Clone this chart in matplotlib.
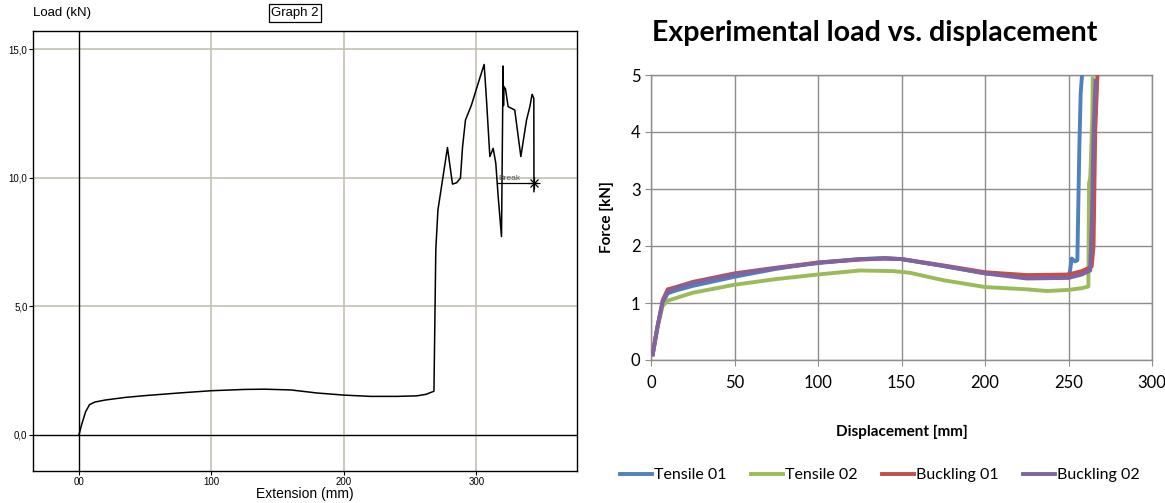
import matplotlib
matplotlib.use("Agg")
import matplotlib.pyplot as plt

# ---- left: machine output (Extension vs Load) ----
ext_mm = [0, 2, 5, 8, 12, 20, 35, 50, 75, 100, 125, 140, 160, 180, 200, 220, 240, 255, 262, 268,
          269.4, 271, 273.7, 278.2, 282, 285, 288, 289.6, 291.8, 296.3, 301.4, 305.9,
          307.7, 310.2, 312.7, 314.7, 316.5, 319, 320.2, 320.5, 320.8, 322, 324, 329,
          333.6, 337.9, 340.4, 342.1, 343.4, 343.5, 343.5]
load_kn = [0, 0.4, 0.9, 1.18, 1.28, 1.36, 1.46, 1.53, 1.63, 1.72, 1.77, 1.78, 1.75, 1.63, 1.55,
           1.5, 1.5, 1.52, 1.58, 1.7,
           7.2, 8.74, 9.65, 11.17, 9.75, 9.8, 9.98, 11.2, 12.24, 12.82, 13.67, 14.4,
           13.0, 10.82, 11.14, 10.56, 9.26, 7.71, 14.34, 12.8, 13.54, 13.45, 12.76, 12.63,
           10.82, 12.24, 12.76, 13.24, 13.08, 9.78, 9.46]
break_x = 343.5
break_y = 9.8
break_line = [315.7, 346]

left_xticks = [0, 100, 200, 300]
left_xlabels = ["00", "100", "200", "300"]
left_yticks = [0, 5, 10, 15]
left_ylabels = ["0,0", "5,0", "10,0", "15,0"]

# ---- right: Excel chart (Displacement vs Force) ----
t1_x = [1, 4, 7, 10, 15, 25, 50, 75, 100, 125, 140, 150, 175, 200, 225, 240, 250, 251,
        251.9, 253.9, 255.3, 255.9, 256.5, 257.3, 258.1]
t1_y = [0.1, 0.6, 1.0, 1.17, 1.22, 1.3, 1.46, 1.6, 1.71, 1.77, 1.79, 1.77, 1.65, 1.52,
        1.46, 1.45, 1.46, 1.58, 1.78, 1.73, 1.75, 2.75, 3.74, 4.68, 5.0]
t2_x = [1, 4, 7, 10, 25, 50, 75, 100, 125, 145, 155, 175, 200, 225, 237, 250, 258, 261.9,
        262.3, 263, 263.3, 264.3, 264.5]
t2_y = [0.1, 0.6, 0.95, 1.04, 1.18, 1.32, 1.42, 1.5, 1.57, 1.56, 1.53, 1.4, 1.28, 1.24,
        1.21, 1.23, 1.26, 1.29, 3.1, 3.2, 3.4, 4.3, 4.94]
b1_x = [1, 4, 7, 10, 15, 25, 50, 75, 100, 125, 140, 150, 175, 200, 225, 250, 258, 263.9,
        265, 266, 267.3]
b1_y = [0.1, 0.6, 1.05, 1.24, 1.28, 1.37, 1.52, 1.62, 1.71, 1.76, 1.78, 1.77, 1.66, 1.54,
        1.49, 1.5, 1.56, 1.64, 2.0, 4.0, 4.97]
b2_x = [1, 4, 7, 10, 15, 25, 50, 75, 100, 125, 140, 150, 175, 200, 225, 250, 258, 263,
        264, 265, 266.2]
b2_y = [0.1, 0.6, 1.02, 1.2, 1.26, 1.35, 1.5, 1.61, 1.7, 1.77, 1.78, 1.77, 1.65, 1.52,
        1.43, 1.44, 1.5, 1.57, 2.5, 4.0, 4.9]
series = [("Tensile 01", t1_x, t1_y, "#4F81BD"),
          ("Tensile 02", t2_x, t2_y, "#9BBB59"),
          ("Buckling 01", b1_x, b1_y, "#C0504D"),
          ("Buckling 02", b2_x, b2_y, "#8064A2")]

fig = plt.figure(figsize=(11.65, 5.03), dpi=100)

# left panel
ax1 = fig.add_axes([33 / 1165, 1 - 471 / 503, 544 / 1165, 440 / 503])
ax1.set_xlim(-34.7, 376)
ax1.set_ylim(-1.4, 15.7)
grid_c = "#c6c0b4"
for x in left_xticks[1:]:
    ax1.axvline(x, color=grid_c, lw=1.2, zorder=1)
for y in left_yticks[1:]:
    ax1.axhline(y, color=grid_c, lw=1.2, zorder=1)
ax1.axvline(0, color="black", lw=1, zorder=2)
ax1.axhline(0, color="black", lw=1, zorder=2)
ax1.plot(ext_mm, load_kn, color="black", lw=1.1, zorder=3)
ax1.plot(break_line, [break_y, break_y], color="black", lw=0.9, zorder=3)
ax1.plot([break_x], [break_y], marker="x", color="black", ms=6, mew=0.9, zorder=4)
ax1.plot([break_x], [break_y], marker="+", color="black", ms=8, mew=0.9, zorder=4)
ax1.text(break_line[0] + 1, break_y + 0.03, "Break", fontsize=6, color="#555555",
         va="bottom", ha="left", family="Liberation Sans")
ax1.set_xticks(left_xticks)
ax1.set_xticklabels(left_xlabels)
ax1.set_yticks(left_yticks)
ax1.set_yticklabels(left_ylabels)
ax1.tick_params(axis="both", labelsize=7, length=3, width=0.8, pad=1, colors="black")
for lab in ax1.get_xticklabels() + ax1.get_yticklabels():
    lab.set_family("Liberation Sans")
for s in ax1.spines.values():
    s.set_linewidth(1.0)
ax1.set_xlabel("Extension (mm)", fontsize=10, family="Liberation Sans", labelpad=0)
fig.text(33 / 1165, 1 - 13 / 503, "Load (kN)", fontsize=9.5, family="Liberation Sans",
         va="center", ha="left")
fig.text(295 / 1165, 1 - 13 / 503, "Graph 2", fontsize=9.5, family="Liberation Sans",
         va="center", ha="center",
         bbox=dict(boxstyle="square,pad=0.2", fc="white", ec="black", lw=0.9))

# right panel
ax2 = fig.add_axes([651 / 1165, 1 - 360 / 503, 501 / 1165, 285 / 503])
for name, xs, ys, c in series:
    ax2.plot(xs, ys, color=c, lw=2.8, label=name, zorder=3, solid_joinstyle="round")
ax2.set_xlim(0, 300)
ax2.set_ylim(0, 5)
ax2.set_xticks(range(0, 301, 50))
ax2.set_yticks(range(0, 6))
ax2.grid(True, color="#8c8c8c", lw=1.0, zorder=0)
for s in ax2.spines.values():
    s.set_color("#8c8c8c")
    s.set_linewidth(1.0)
ax2.tick_params(axis="both", labelsize=12, length=4, color="#8c8c8c", labelcolor="black")
ax2.tick_params(axis="x", pad=7)
for lab in ax2.get_xticklabels() + ax2.get_yticklabels():
    lab.set_family("Lato")
ax2.set_xlabel("Displacement [mm]", fontsize=11, fontweight="bold", family="Lato", labelpad=24)
ax2.set_ylabel("Force [kN]", fontsize=11, fontweight="bold", family="Lato", labelpad=12)
fig.text(875 / 1165, 1 - 33 / 503, "Experimental load vs. displacement", fontsize=20.5,
         fontweight="bold", family="Lato", ha="center", va="center")
leg = fig.legend(handles=ax2.get_lines(), loc="center", bbox_to_anchor=(880 / 1165, 1 - 475 / 503),
                 ncol=4, frameon=False, prop={"family": "Lato", "size": 11.5},
                 handlelength=2.0, handletextpad=0.15, columnspacing=1.5)

fig.savefig("out.png", dpi=100)
